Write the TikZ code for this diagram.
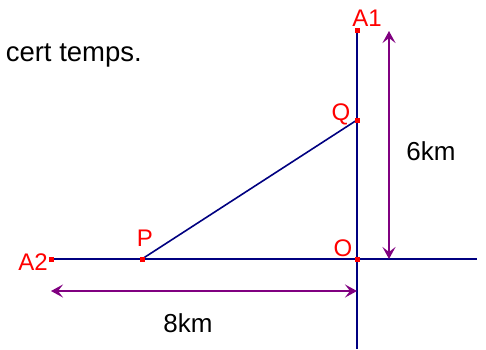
\documentclass[tikz,border=0pt]{standalone}
\usepackage{fontspec}
\setmainfont{Liberation Sans}
\usetikzlibrary{arrows.meta,calc}
\definecolor{axisblue}{RGB}{0,0,128}
\definecolor{dimpurple}{RGB}{128,0,128}
\definecolor{ptred}{RGB}{255,0,0}
\tikzset{
  axis/.style={axisblue, line width=1.6pt},
  dimline/.style={dimpurple, line width=2.6pt, {Stealth[length=12pt,width=13pt,inset=5pt]}-{Stealth[length=12pt,width=13pt,inset=5pt]}},
  ptlabel/.style={ptred, font=\fontsize{24}{27}\selectfont, inner sep=0pt},
  dimlabel/.style={black, font=\fontsize{26}{29}\selectfont, inner sep=0pt},
  pt/.style={fill=ptred}
}
\begin{document}
\begin{tikzpicture}[x=1pt,y=-1pt]
\useasboundingbox (0,0) rectangle (486,349);
% points
\coordinate (A1) at (357,30);
\coordinate (Q) at (357,120);
\coordinate (O) at (357,259);
\coordinate (P) at (142,259);
\coordinate (A2) at (51,259);
\coordinate (Bot) at (357,349);
\coordinate (Right) at (477,259);
\coordinate (U1) at (389,31);
\coordinate (U2) at (389,259);
\coordinate (H1) at (51,291);
\coordinate (H2) at (357,291);
% text
\node[anchor=base east, font=\fontsize{27.5}{30}\selectfont, inner sep=0pt] (txt) at (142,61) {cert temps.};
% axes and segment
\draw[axis] (A1) -- (Bot);
\draw[axis] (A2) -- (Right);
\draw[axis] (P) -- (Q);
% dimensions
\draw[dimline] (U1) -- (U2);
\draw[dimline] (H1) -- (H2);
\node[dimlabel] (l6) at (431,151) {6km};
\node[dimlabel] (l8) at (188,323) {8km};
% point marks
\foreach \p in {A1,Q,O,P,A2}
  \fill[pt] ($(\p)+(-2.5,-2.5)$) rectangle ($(\p)+(2.5,2.5)$);
\node[ptlabel] (lA1) at (367,18) {A1};
\node[ptlabel] (lQ) at (341,114) {Q};
\node[ptlabel] (lO) at (343,248) {O};
\node[ptlabel] (lP) at (145,238) {P};
\node[ptlabel] (lA2) at (33,262) {A2};
\end{tikzpicture}
\end{document}
